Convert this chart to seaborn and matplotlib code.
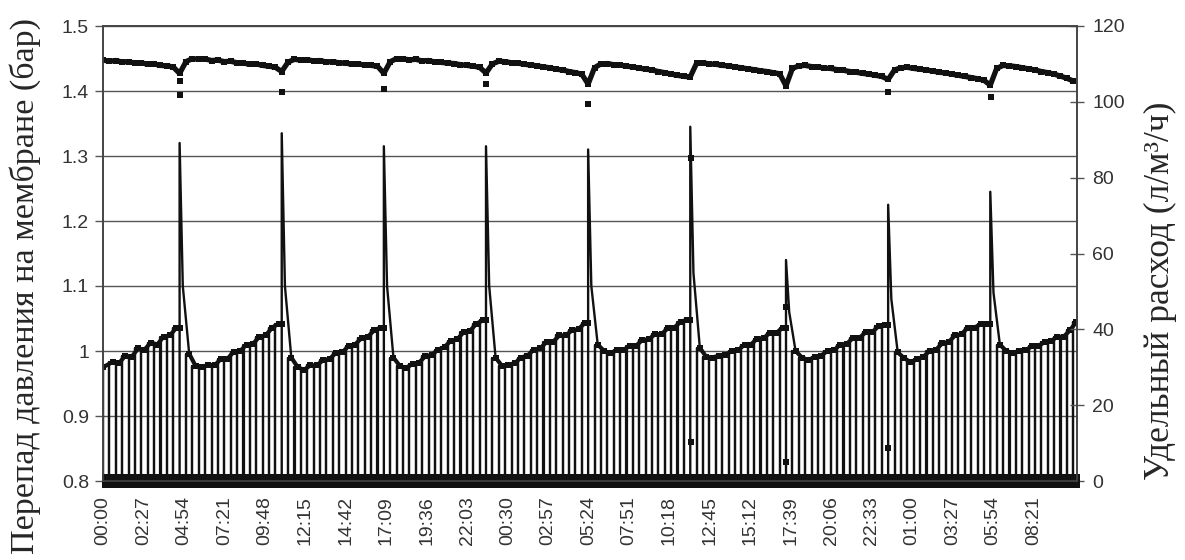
import matplotlib
matplotlib.use('Agg')
import matplotlib.pyplot as plt
import pandas as pd
import seaborn as sns

# Data
# one value per filtration cycle (cycle length ~23 min), spikes = chemical wash
cycle_min = 23.2
tmp_bar = [
    0.975, 0.983, 0.981, 0.993, 0.991, 1.004, 1.002, 1.013, 1.010, 1.022, 1.024, 1.036,
    1.10,
    0.996, 0.977, 0.975, 0.979, 0.978, 0.988, 0.988, 0.999, 1.000, 1.010, 1.011, 1.022, 1.024, 1.036, 1.042,
    1.10,
    0.990, 0.975, 0.971, 0.978, 0.978, 0.986, 0.988, 0.997, 0.998, 1.008, 1.010, 1.020, 1.022, 1.032, 1.036,
    1.10,
    0.990, 0.977, 0.974, 0.980, 0.982, 0.992, 0.994, 1.002, 1.006, 1.016, 1.018, 1.029, 1.031, 1.042, 1.047,
    1.10,
    0.990, 0.977, 0.979, 0.981, 0.990, 0.993, 1.002, 1.004, 1.014, 1.014, 1.024, 1.024, 1.032, 1.034, 1.043,
    1.10,
    1.010, 1.000, 0.997, 1.001, 1.001, 1.008, 1.008, 1.017, 1.018, 1.026, 1.026, 1.035, 1.036, 1.045, 1.048,
    1.12,
    1.005, 0.991, 0.990, 0.993, 0.994, 1.000, 1.001, 1.010, 1.010, 1.019, 1.020, 1.028, 1.028, 1.036,
    1.06,
    1.000, 0.990, 0.986, 0.991, 0.993, 1.000, 1.001, 1.010, 1.011, 1.020, 1.020, 1.029, 1.029, 1.038, 1.040,
    1.08,
    0.998, 0.989, 0.983, 0.987, 0.991, 1.000, 1.002, 1.012, 1.014, 1.024, 1.026, 1.036, 1.036, 1.041, 1.042,
    1.09,
    1.010, 1.000, 0.997, 1.000, 1.001, 1.007, 1.007, 1.014, 1.015, 1.022, 1.022, 1.032, 1.045,
]
flux_lmh = [
    111.0, 110.7, 110.9, 110.5, 110.6, 110.2, 110.3, 109.9, 110.0, 109.6, 109.5, 109.2,
    107.5,
    110.6, 111.4, 111.2, 111.3, 110.9, 111.0, 110.6, 110.7, 110.3, 110.2, 109.9, 110.0, 109.6, 109.4, 109.1,
    108.0,
    110.5, 111.2, 111.0, 111.1, 110.8, 110.9, 110.5, 110.6, 110.3, 110.2, 109.9, 110.0, 109.7, 109.6, 109.4,
    107.5,
    110.6, 111.4, 111.3, 111.1, 111.2, 110.8, 110.9, 110.5, 110.4, 110.2, 110.1, 109.8, 109.6, 109.4, 109.1,
    107.6,
    110.0, 110.7, 110.6, 110.3, 110.2, 109.9, 109.7, 109.5, 109.2, 109.0, 108.6, 108.4, 108.0, 107.7, 107.3,
    104.7,
    109.0, 110.0, 110.1, 109.8, 109.7, 109.4, 109.2, 108.9, 108.6, 108.4, 108.0, 107.7, 107.3, 107.0, 106.7,
    106.6,
    110.2, 110.3, 110.0, 109.9, 109.6, 109.5, 109.2, 109.0, 108.7, 108.5, 108.2, 108.0, 107.7, 107.4,
    104.2,
    108.8, 109.5, 109.6, 109.3, 109.2, 108.9, 108.8, 108.5, 108.3, 108.0, 107.8, 107.5, 107.3, 107.0, 106.7,
    105.9,
    108.4, 109.0, 109.1, 108.8, 108.6, 108.4, 108.1, 107.8, 107.6, 107.3, 107.0, 106.7, 106.4, 106.1, 105.7,
    104.4,
    108.8, 109.6, 109.5, 109.3, 109.0, 108.7, 108.4, 108.0, 107.7, 107.3, 106.8, 106.2, 105.5,
]
spike_cycles = [12, 28, 44, 60, 76, 92, 107, 123, 139]
spike_peak_bar = [1.32, 1.335, 1.315, 1.315, 1.31, 1.345, 1.14, 1.225, 1.245]
backwash_flux = 0.0

# single stray flux readings around the chemical washes
stray_cycles = [12, 12, 28, 44, 60, 76, 92, 92, 107, 107, 123, 123, 139]
stray_flux = [105.6, 101.9, 102.5, 103.5, 104.7, 99.4, 85.1, 10.4, 45.8, 5.1, 102.7, 8.6, 101.2]

time_labels = ['00:00', '02:27', '04:54', '07:21', '09:48', '12:15', '14:42', '17:09',
               '19:36', '22:03', '00:30', '02:57', '05:24', '07:51', '10:18', '12:45',
               '15:12', '17:39', '20:06', '22:33', '01:00', '03:27', '05:54', '08:21']
label_step_min = 147
x_end_min = 3540

tmp_ticks = [0.8, 0.9, 1.0, 1.1, 1.2, 1.3, 1.4, 1.5]
tmp_ticklabels = ['0.8', '0.9', '1', '1.1', '1.2', '1.3', '1.4', '1.5']
flux_ticks = [0, 20, 40, 60, 80, 100, 120]

# Build plotting tables
peaks = dict(zip(spike_cycles, spike_peak_bar))
drop_rows, spike_rows, curve_rows = [], [], []
seg = 0
for i, v in enumerate(tmp_bar):
    t0 = i * cycle_min
    if i in peaks:
        nxt = tmp_bar[i + 1]
        curve_rows.append((t0, tmp_bar[i - 1], seg))
        seg += 1
        spike_rows += [(t0, 0.0, i), (t0, peaks[i], i), (t0 + cycle_min / 2, v, i),
                       (t0 + 1.5 * cycle_min, nxt, i)]
    else:
        drop_rows += [(t0, 0.0), (t0, v), (t0 + 0.3, v), (t0 + 0.3, 0.0)]
        curve_rows.append((0.0 if i == 0 else t0 + cycle_min / 2, v, seg))
df_drop = pd.DataFrame(drop_rows, columns=['t', 'p'])
df_spike = pd.DataFrame(spike_rows, columns=['t', 'p', 'u'])
df_curve = pd.DataFrame(curve_rows, columns=['t', 'p', 'u'])

df_flux = pd.DataFrame({'t': [i * cycle_min for i in range(len(flux_lmh))], 'q': flux_lmh})
bw_t = [i * cycle_min for i in range(len(tmp_bar))]
df_bw = pd.DataFrame({'t': [t for t in bw_t if 0 < t <= x_end_min], 'q': backwash_flux})
df_stray = pd.DataFrame({'t': [c * cycle_min + 1 for c in stray_cycles], 'q': stray_flux})

sns.set_style('white')
plt.rcParams['font.family'] = ['Liberation Sans', 'DejaVu Sans']

fig = plt.figure(figsize=(11.85, 5.6), dpi=100)
ax = fig.add_axes([103 / 1185, 1 - 481 / 560, 974 / 1185, 455 / 560])
ax2 = ax.twinx()

# pressure drop (left axis)
sns.lineplot(data=df_drop, x='t', y='p', sort=False, estimator=None, color='#111111', lw=1.6, ax=ax)
sns.lineplot(data=df_spike, x='t', y='p', units='u', sort=False, estimator=None, color='#111111',
             lw=1.7, ax=ax)
sns.lineplot(data=df_curve, x='t', y='p', units='u', sort=False, estimator=None, color='#111111',
             lw=3.0, marker='s', markersize=4, markeredgewidth=0, ax=ax)

# specific flux (right axis)
sns.lineplot(data=df_flux, x='t', y='q', sort=False, estimator=None, color='#111111', lw=3.8,
             marker='s', markersize=4.5, markeredgewidth=0, ax=ax2)
sns.scatterplot(data=df_bw, x='t', y='q', marker='s', s=115, color='#111111', linewidth=0,
                clip_on=False, ax=ax2)
sns.scatterplot(data=df_stray, x='t', y='q', marker='s', s=20, color='#111111', linewidth=0, ax=ax2)

ax.set_xlim(0, x_end_min)
ax.set_ylim(0.8, 1.5)
ax2.set_ylim(0, 120)

ax.set_xticks([i * label_step_min for i in range(len(time_labels))])
ax.set_xticklabels(time_labels, rotation=90)
ax.set_yticks(tmp_ticks)
ax.set_yticklabels(tmp_ticklabels)
ax2.set_yticks(flux_ticks)

ax.tick_params(axis='x', length=0, pad=11, labelsize=14, labelcolor='#333333')
ax.tick_params(axis='y', direction='out', length=6, width=1, color='#555555',
               labelsize=14, labelcolor='#333333', pad=4)
ax2.tick_params(axis='y', direction='inout', length=10, width=1, color='#555555',
                labelsize=14, labelcolor='#333333', pad=6)

ax.yaxis.grid(True, color='#555555', lw=1)
ax.set_axisbelow(True)
for a in (ax, ax2):
    a.set_xlabel('')
    a.set_ylabel('')
    for s in a.spines.values():
        s.set_color('#444444')
        s.set_linewidth(1.2)

fig.text(0.021, 0.49, 'Перепад давления на мембране (бар)', rotation=90, ha='center', va='center',
         family=['Liberation Serif', 'DejaVu Serif'], fontsize=24.5)
fig.text(0.979, 0.48, 'Удельный расход (л/м³/ч)', rotation=90, ha='center', va='center',
         family=['Liberation Serif', 'DejaVu Serif'], fontsize=25.5)

fig.savefig('out.png', dpi=100, facecolor='white')
